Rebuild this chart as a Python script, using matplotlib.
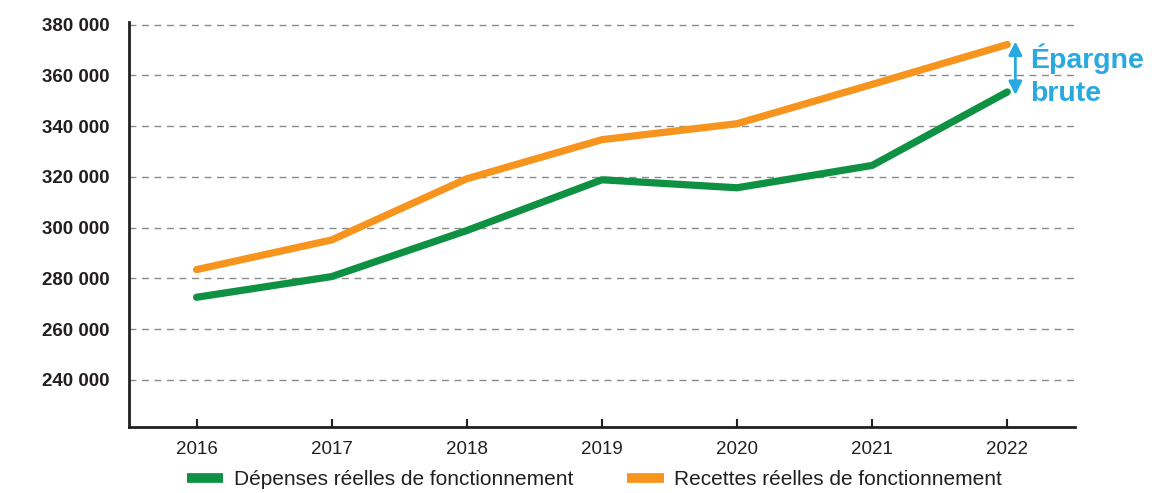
import matplotlib.pyplot as plt
from matplotlib.lines import Line2D

# data
YEARS = [2016, 2017, 2018, 2019, 2020, 2021, 2022]
DEPENSES = [272600, 280750, 298900, 318900, 315750, 324550, 353500]
RECETTES = [283500, 295200, 319300, 334700, 341000, 356500, 372200]
Y_TICKS = [240000, 260000, 280000, 300000, 320000, 340000, 360000, 380000]
Y_LABELS = ['240 000', '260 000', '280 000', '300 000', '320 000', '340 000', '360 000', '380 000']
LEGEND_LABELS = ['Dépenses réelles de fonctionnement', 'Recettes réelles de fonctionnement']
ANNOTATION = 'Épargne\nbrute'
ANNOTATION_Y = 360100

GREEN = '#0E9142'
ORANGE = '#F7941D'
BLUE = '#29A9E0'
TEXT = '#231F20'

plt.rcParams['font.family'] = ['Liberation Sans', 'DejaVu Sans']

fig = plt.figure(figsize=(11.52, 4.93), dpi=100)
ax = fig.add_axes([0.112, 0.134, 0.821, 0.821])

ax.plot(YEARS, DEPENSES, color=GREEN, lw=5.2, solid_capstyle='round', solid_joinstyle='round', zorder=3)
ax.plot(YEARS, RECETTES, color=ORANGE, lw=5.2, solid_capstyle='round', solid_joinstyle='round', zorder=3)

ax.set_xlim(2015.5, 2022.5)
ax.set_ylim(221500, 381000)
ax.set_xticks(YEARS)
ax.set_xticklabels([str(y) for y in YEARS], fontsize=13.5, color=TEXT)
ax.set_yticks(Y_TICKS)
ax.set_yticklabels(Y_LABELS, fontsize=13.5, color=TEXT, fontweight='bold')
ax.tick_params(axis='x', direction='in', length=6, width=1.5, color=TEXT, pad=10)
ax.tick_params(axis='y', length=0, pad=14)
ax.grid(axis='y', color='#8a8a8a', lw=1, linestyle=(0, (5, 4)))
ax.set_axisbelow(True)
for side in ['top', 'right']:
    ax.spines[side].set_visible(False)
for side in ['left', 'bottom']:
    ax.spines[side].set_linewidth(2)
    ax.spines[side].set_color(TEXT)

# épargne brute arrow and label
ax.annotate('', xy=(YEARS[-1] + 0.06, RECETTES[-1] + 1200), xytext=(YEARS[-1] + 0.06, DEPENSES[-1] - 1200),
            arrowprops=dict(arrowstyle='<|-|>,head_length=0.8,head_width=0.4', color=BLUE, lw=2,
                            shrinkA=0, shrinkB=0))
ax.text(YEARS[-1] + 0.17, ANNOTATION_Y, ANNOTATION, color=BLUE, fontsize=20.5,
        fontweight='bold', ha='left', va='center', linespacing=1.35, clip_on=False)

handles = [Line2D([], [], color=GREEN, lw=7, solid_capstyle='butt'),
           Line2D([], [], color=ORANGE, lw=7, solid_capstyle='butt')]
fig.legend(handles, LEGEND_LABELS, loc='center', bbox_to_anchor=(0.516, 0.027), ncol=2, frameon=False,
           handlelength=1.75, handletextpad=0.5, columnspacing=2.6,
           prop=dict(size=15), labelcolor=TEXT)

fig.savefig('out.png', dpi=100)
